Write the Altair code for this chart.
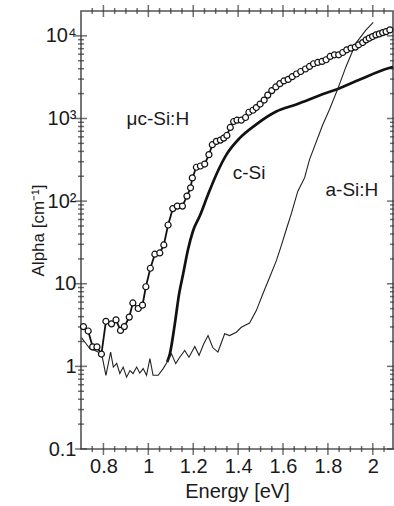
import altair as alt
import pandas as pd

mu_E = [0.711, 0.732, 0.752, 0.771, 0.791, 0.811, 0.836, 0.856, 0.876, 0.893,
        0.915, 0.931, 0.955, 0.974, 0.989, 1.009, 1.029, 1.051, 1.069, 1.088,
        1.109, 1.129, 1.152, 1.172, 1.188, 1.196, 1.214, 1.232, 1.251, 1.270,
        1.285, 1.303, 1.321, 1.336, 1.350, 1.365, 1.380, 1.395, 1.414, 1.433,
        1.448, 1.466, 1.481, 1.498, 1.516, 1.532, 1.550, 1.568, 1.586, 1.604,
        1.623, 1.641, 1.660, 1.679, 1.700, 1.718, 1.736, 1.755, 1.774, 1.792,
        1.810, 1.829, 1.848, 1.866, 1.884, 1.903, 1.922, 1.937, 1.955, 1.970,
        1.984, 1.999, 2.014, 2.029, 2.044, 2.059, 2.076]
mu_A = [3.03, 2.68, 1.72, 1.72, 1.41, 3.51, 3.27, 3.65, 2.72, 3.03,
        3.95, 5.86, 5.02, 5.51, 9.2, 15.4, 22.8, 23.6, 29.5, 51.4,
        81.2, 87.1, 87.1, 115, 145, 191, 257, 266, 281, 365,
        482, 528, 548, 579, 624, 779, 920, 954, 954, 1028,
        1191, 1259, 1357, 1495, 1671, 1920, 2175, 2410, 2641, 2846,
        2975, 3207, 3456, 3704, 3970, 4267, 4599, 4767, 4902, 5138,
        5632, 5904, 5904, 6293, 6781, 7110, 7311, 7792, 8305, 8950,
        9383, 9808, 10280, 10570, 10960, 11270, 11810]

csi_E = [1.084, 1.096, 1.118, 1.137, 1.155, 1.177, 1.199, 1.229, 1.266, 1.303,
         1.348, 1.407, 1.481, 1.570, 1.659, 1.792, 1.844, 1.940, 2.073, 2.09]
csi_A = [1.13, 1.42, 3.27, 7.52, 13.1, 26.2, 43.5, 66, 120, 210,
         365, 579, 850, 1214, 1480, 2040, 2280, 2950, 4080, 4200]

asi_E = [0.702, 0.722, 0.740, 0.762, 0.792, 0.811, 0.832, 0.844, 0.859, 0.873,
         0.888, 0.903, 0.918, 0.932, 0.948, 0.962, 0.977, 0.992, 1.007, 1.021,
         1.044, 1.066, 1.084, 1.103, 1.122, 1.140, 1.162, 1.181, 1.207, 1.226,
         1.247, 1.266, 1.287, 1.310, 1.340, 1.362, 1.392, 1.414, 1.451, 1.481,
         1.510, 1.540, 1.570, 1.592, 1.617, 1.636, 1.666, 1.696, 1.718, 1.777,
         1.807, 1.844, 1.881, 1.925, 1.970, 2.002]
asi_A = [2.23, 1.89, 1.63, 1.56, 1.42, 0.78, 1.49, 0.98, 1.09, 0.82,
         0.98, 0.74, 0.89, 0.82, 0.98, 0.83, 0.94, 0.78, 1.24, 0.78,
         0.78, 0.94, 1.13, 1.42, 1.08, 1.29, 1.56, 1.29, 1.74, 1.36,
         1.88, 2.36, 1.69, 1.49, 2.48, 2.36, 2.59, 2.97, 3.34, 4.73,
         7.52, 11.9, 18.9, 28.7, 47.6, 69.2, 132, 191, 318, 840,
         1283, 2280, 4267, 8166, 11810, 14540]

lab_text = ["\u03bcc-Si:H", "c-Si", "a-Si:H"]
lab_E = [1.042, 1.449, 1.907]
lab_A = [973, 217, 136]

x_major = [0.8, 1.0, 1.2, 1.4, 1.6, 1.8, 2.0]
x_minor = [0.75, 0.85, 0.9, 0.95, 1.05, 1.1, 1.15, 1.25, 1.3, 1.35, 1.45, 1.5,
           1.55, 1.65, 1.7, 1.75, 1.85, 1.9, 1.95, 2.05]
y_major = [0.1, 1, 10, 100, 1000, 10000]
y_minor = [0.2, 0.3, 0.4, 0.5, 0.6, 0.7, 0.8, 0.9,
           2, 3, 4, 5, 6, 7, 8, 9,
           20, 30, 40, 50, 60, 70, 80, 90,
           200, 300, 400, 500, 600, 700, 800, 900,
           2000, 3000, 4000, 5000, 6000, 7000, 8000, 9000]
x_lim = [0.7, 2.09]
y_lim = [0.1, 20000]

W, H = 312, 438
FONT = "Liberation Sans"
TICKC = "#333333"
xs = alt.Scale(domain=x_lim, nice=False, zero=False)
ys = alt.Scale(type="log", domain=y_lim, nice=False)

rows = []
for e, a in zip(mu_E, mu_A):
    rows.append({"E": e, "A": a, "s": "mu", "t": ""})
for e, a in zip(csi_E, csi_A):
    rows.append({"E": e, "A": a, "s": "csi", "t": ""})
for e, a in zip(asi_E, asi_A):
    rows.append({"E": e, "A": a, "s": "asi", "t": ""})
for t, e, a in zip(lab_text, lab_E, lab_A):
    rows.append({"E": e, "A": a, "s": "lab", "t": t})
for v in x_major:
    rows.append({"E": v, "A": y_lim[0], "s": "xM", "t": ""})
    rows.append({"E": v, "A": y_lim[1], "s": "xM", "t": ""})
for v in x_minor:
    rows.append({"E": v, "A": y_lim[0], "s": "xm", "t": ""})
    rows.append({"E": v, "A": y_lim[1], "s": "xm", "t": ""})
for v in y_major:
    rows.append({"E": x_lim[0], "A": v, "s": "yM", "t": ""})
    rows.append({"E": x_lim[1], "A": v, "s": "yM", "t": ""})
for v in y_minor:
    rows.append({"E": x_lim[0], "A": v, "s": "ym", "t": ""})
    rows.append({"E": x_lim[1], "A": v, "s": "ym", "t": ""})
df = pd.DataFrame(rows)

ax_x_lab = alt.Axis(orient="bottom", values=x_major, format="~g", ticks=False,
                    tickSize=0, domain=False, grid=False, labelFontSize=20,
                    labelPadding=7, labelFlush=False, labelColor="#1a1a1a",
                    title="Energy [eV]", titleFontSize=20, titleFontWeight="normal",
                    titleColor="#1a1a1a", titleY=48, titleBaseline="alphabetic")
ylab_expr = ("datum.value >= 9999 ? '10\u2074' : datum.value >= 999 ? '10\u00b3' : "
             "datum.value >= 99 ? '10\u00b2' : datum.value >= 9 ? '10' : "
             "datum.value >= 0.9 ? '1' : '0.1'")
ax_y_lab = alt.Axis(orient="left", values=y_major, labelExpr=ylab_expr, ticks=False,
                    tickSize=0, domain=False, grid=False, labelFontSize=20,
                    labelPadding=5, labelFlush=False, labelColor="#1a1a1a",
                    title="Alpha [cm\u207b\u00b9]", titleFontSize=17,
                    titleFontWeight="normal", titleColor="#1a1a1a",
                    titleX=-43, titleY=H / 2, titleBaseline="middle")

base = alt.Chart(df)
X0 = alt.X("E:Q", scale=xs, axis=None)
Y0 = alt.Y("A:Q", scale=ys, axis=None)


def sel(key):
    return alt.datum.s == key


def tk(key, orient, size):
    return base.mark_tick(color=TICKC, thickness=1.5, size=size,
                          orient=orient).encode(
        x=X0, y=Y0).transform_filter(sel(key))


ticks = [
    tk("xM", "vertical", 12), tk("xm", "vertical", 6),
    tk("yM", "horizontal", 12), tk("ym", "horizontal", 6),
]

mu_line = base.mark_line(color="#111", strokeWidth=1.8).encode(
    x=alt.X("E:Q", scale=xs, axis=ax_x_lab),
    y=alt.Y("A:Q", scale=ys, axis=ax_y_lab)).transform_filter(sel("mu"))
csi_line = base.mark_line(color="#111", strokeWidth=2.7, interpolate="monotone").encode(
    x=X0, y=Y0).transform_filter(sel("csi"))
asi_line = base.mark_line(color="#222", strokeWidth=1.1).encode(
    x=X0, y=Y0).transform_filter(sel("asi"))
mu_pts = base.mark_point(shape="circle", filled=False, fill="white", fillOpacity=1,
                         stroke="#111", strokeWidth=1.2, size=36, opacity=1).encode(
    x=X0, y=Y0).transform_filter(sel("mu"))
texts = base.mark_text(font=FONT, fontSize=19, color="#1a1a1a", align="center",
                       baseline="middle").encode(
    x=X0, y=Y0, text="t:N").transform_filter(sel("lab"))

chart = alt.layer(*ticks, mu_line, csi_line, asi_line, mu_pts, texts).resolve_axis(
    x="independent", y="independent"
).properties(
    width=W, height=H,
    autosize=alt.AutoSizeParams(type="none"),
    padding={"left": 81, "top": 11, "right": 1, "bottom": 57},
    background="white",
).configure_view(stroke="#555", strokeWidth=1.6).configure_axis(
    labelFont=FONT, titleFont=FONT)

chart.save("out.html", embed_options={"renderer": "svg", "actions": False})
